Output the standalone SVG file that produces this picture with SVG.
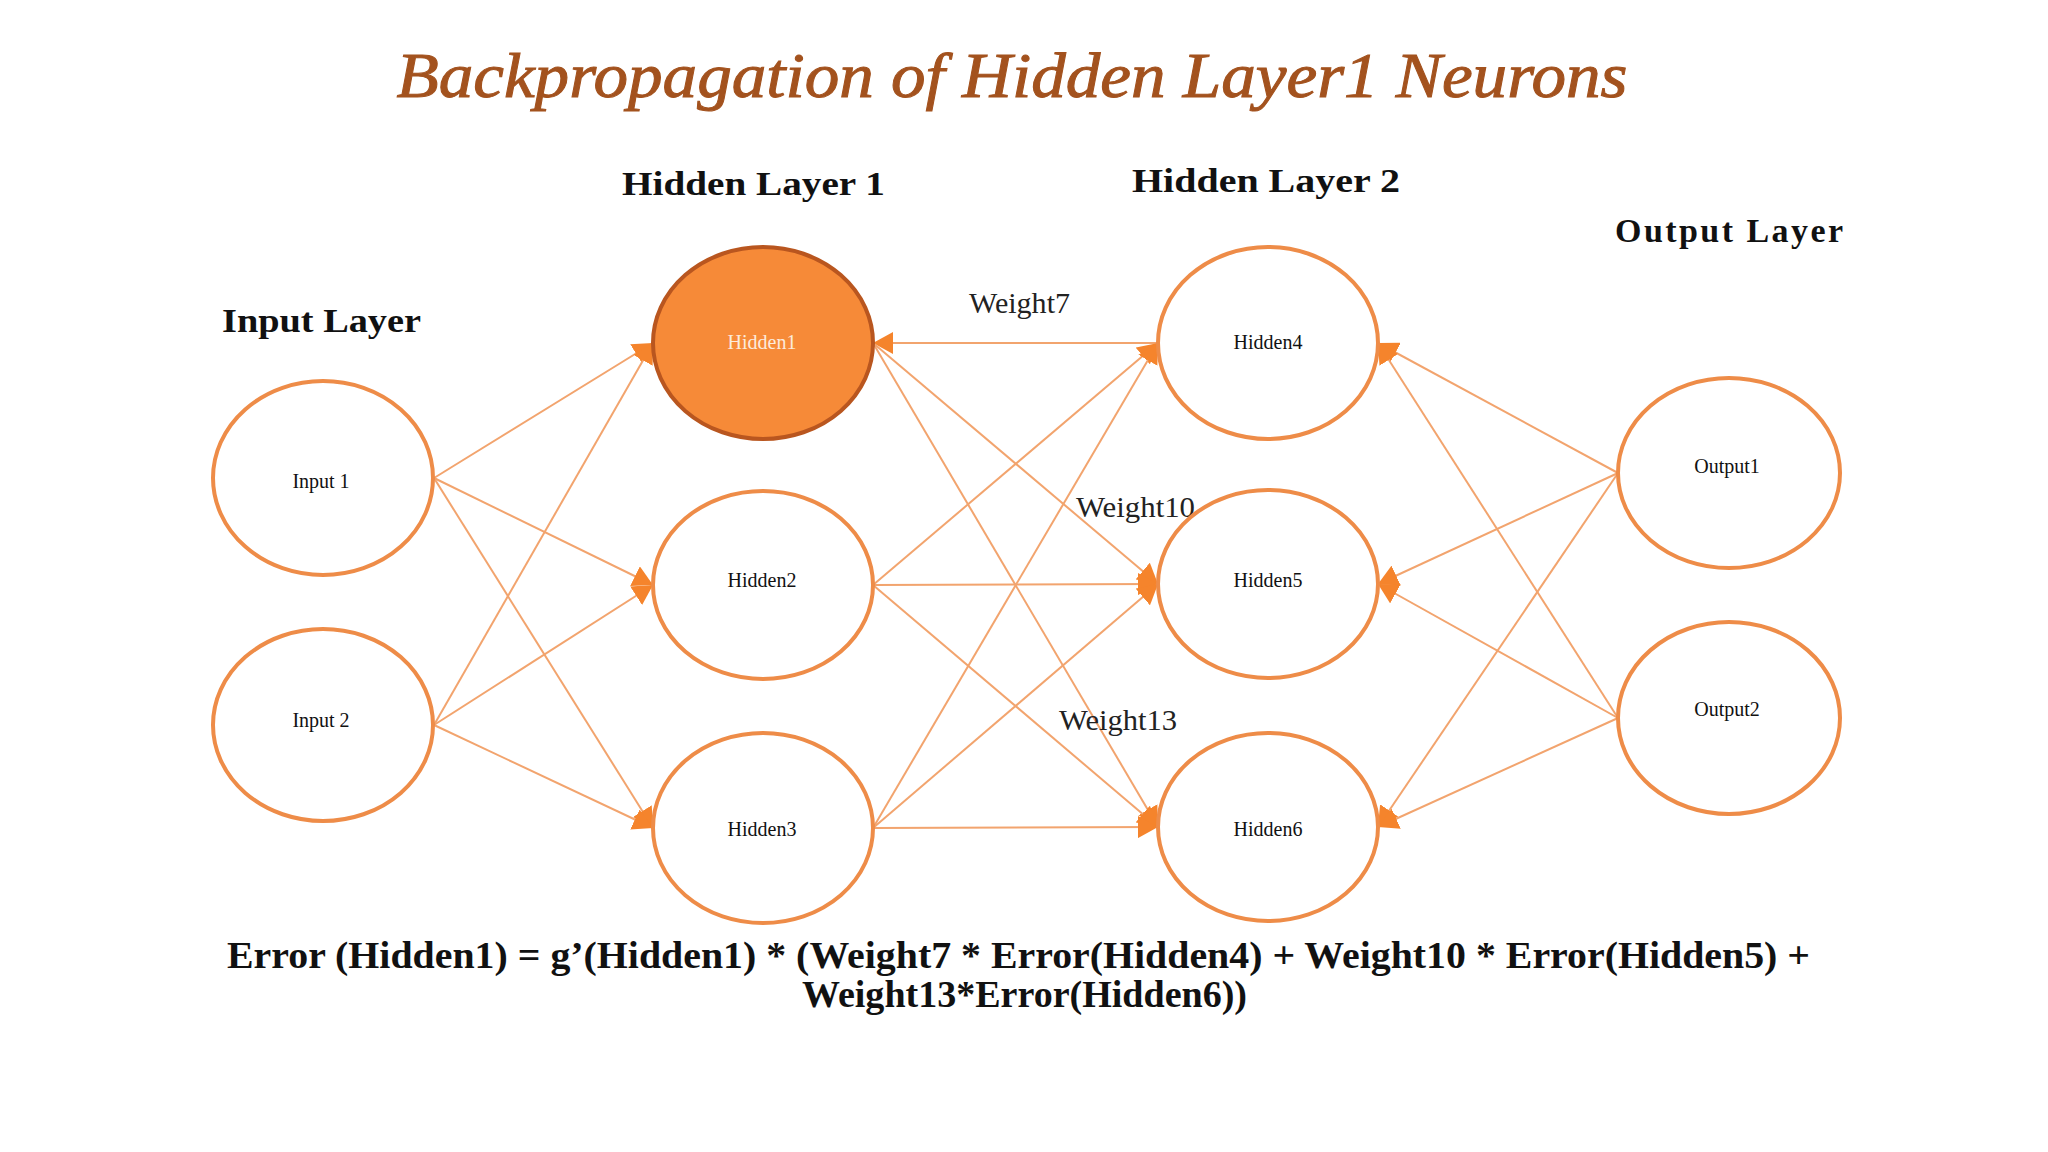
<svg xmlns="http://www.w3.org/2000/svg" width="2048" height="1152" viewBox="0 0 2048 1152">
<defs>
<style>
.title{font-family:"Liberation Serif",serif;font-style:italic;font-size:64px;fill:#A3521E;stroke:#A3521E;stroke-width:1}
.layer{font-family:"Liberation Serif",serif;font-weight:bold;font-size:34px;fill:#111}
.weight{font-family:"Liberation Serif",serif;font-size:29px;fill:#222}
.nlabel{font-family:"Liberation Serif",serif;font-size:20px;fill:#111;text-anchor:middle}
.formula{font-family:"Liberation Serif",serif;font-weight:bold;font-size:38px;fill:#111}
.node{fill:#fff;stroke:#EE8C48;stroke-width:4}
.edge{stroke:#F2A46E;stroke-width:2;fill:none;marker-end:url(#arr)}
</style>
<marker id="arr" markerUnits="userSpaceOnUse" markerWidth="22" markerHeight="22" refX="20" refY="11" orient="auto">
<path d="M0,0 L20,11 L0,22 z" fill="#F5842C"/>
</marker>
</defs>
<rect width="2048" height="1152" fill="#fff"/>
<text class="title" x="1012" y="97" text-anchor="middle" textLength="1231" lengthAdjust="spacingAndGlyphs">Backpropagation of Hidden Layer1 Neurons</text>
<text class="layer" x="222" y="332" textLength="199" lengthAdjust="spacingAndGlyphs">Input Layer</text>
<text class="layer" x="622" y="195" textLength="263" lengthAdjust="spacingAndGlyphs">Hidden Layer 1</text>
<text class="layer" x="1132" y="192" textLength="268" lengthAdjust="spacingAndGlyphs">Hidden Layer 2</text>
<text class="layer" x="1615" y="242" textLength="228" lengthAdjust="spacing">Output Layer</text>
<g id="connectors">
<line class="edge" x1="434" y1="478" x2="653" y2="343"/>
<line class="edge" x1="434" y1="478" x2="653" y2="585"/>
<line class="edge" x1="434" y1="478" x2="653" y2="828"/>
<line class="edge" x1="434" y1="725" x2="653" y2="343"/>
<line class="edge" x1="434" y1="725" x2="653" y2="585"/>
<line class="edge" x1="434" y1="725" x2="653" y2="828"/>
<line class="edge" x1="1158" y1="343" x2="873" y2="343"/>
<line class="edge" x1="873" y1="343" x2="1158" y2="584"/>
<line class="edge" x1="873" y1="343" x2="1158" y2="827"/>
<line class="edge" x1="873" y1="585" x2="1158" y2="343"/>
<line class="edge" x1="873" y1="585" x2="1158" y2="584"/>
<line class="edge" x1="873" y1="585" x2="1158" y2="827"/>
<line class="edge" x1="873" y1="828" x2="1158" y2="343"/>
<line class="edge" x1="873" y1="828" x2="1158" y2="584"/>
<line class="edge" x1="873" y1="828" x2="1158" y2="827"/>
<line class="edge" x1="1618" y1="473" x2="1378" y2="343"/>
<line class="edge" x1="1618" y1="473" x2="1378" y2="584"/>
<line class="edge" x1="1618" y1="473" x2="1378" y2="827"/>
<line class="edge" x1="1618" y1="718" x2="1378" y2="343"/>
<line class="edge" x1="1618" y1="718" x2="1378" y2="584"/>
<line class="edge" x1="1618" y1="718" x2="1378" y2="827"/>
<text class="weight" x="969" y="313" textLength="101" lengthAdjust="spacingAndGlyphs">Weight7</text>
<text class="weight" x="1076" y="517" textLength="119" lengthAdjust="spacingAndGlyphs">Weight10</text>
<text class="weight" x="1059" y="730" textLength="118" lengthAdjust="spacingAndGlyphs">Weight13</text>
</g>
<g id="input1"><ellipse class="node" cx="323" cy="478" rx="110" ry="97"/><text class="nlabel" x="321" y="488">Input 1</text></g>
<g id="input2"><ellipse class="node" cx="323" cy="725" rx="110" ry="96"/><text class="nlabel" x="321" y="727">Input 2</text></g>
<g id="hidden1"><ellipse cx="763" cy="343" rx="110" ry="96" fill="#F68A38" stroke="#B9561F" stroke-width="4"/><text class="nlabel" x="762" y="349" style="fill:#FCEBDC">Hidden1</text></g>
<g id="hidden2"><ellipse class="node" cx="763" cy="585" rx="110" ry="94"/><text class="nlabel" x="762" y="587">Hidden2</text></g>
<g id="hidden3"><ellipse class="node" cx="763" cy="828" rx="110" ry="95"/><text class="nlabel" x="762" y="836">Hidden3</text></g>
<g id="hidden4"><ellipse class="node" cx="1268" cy="343" rx="110" ry="96"/><text class="nlabel" x="1268" y="349">Hidden4</text></g>
<g id="hidden5"><ellipse class="node" cx="1268" cy="584" rx="110" ry="94"/><text class="nlabel" x="1268" y="587">Hidden5</text></g>
<g id="hidden6"><ellipse class="node" cx="1268" cy="827" rx="110" ry="94"/><text class="nlabel" x="1268" y="836">Hidden6</text></g>
<g id="output1"><ellipse class="node" cx="1729" cy="473" rx="111" ry="95"/><text class="nlabel" x="1727" y="473">Output1</text></g>
<g id="output2"><ellipse class="node" cx="1729" cy="718" rx="111" ry="96"/><text class="nlabel" x="1727" y="716">Output2</text></g>
<text class="formula" x="227" y="968" textLength="1583" lengthAdjust="spacingAndGlyphs">Error (Hidden1) = g’(Hidden1)  * (Weight7 * Error(Hidden4) + Weight10 * Error(Hidden5) +</text>
<text class="formula" x="802" y="1007" textLength="445" lengthAdjust="spacingAndGlyphs">Weight13*Error(Hidden6))</text>
</svg>
